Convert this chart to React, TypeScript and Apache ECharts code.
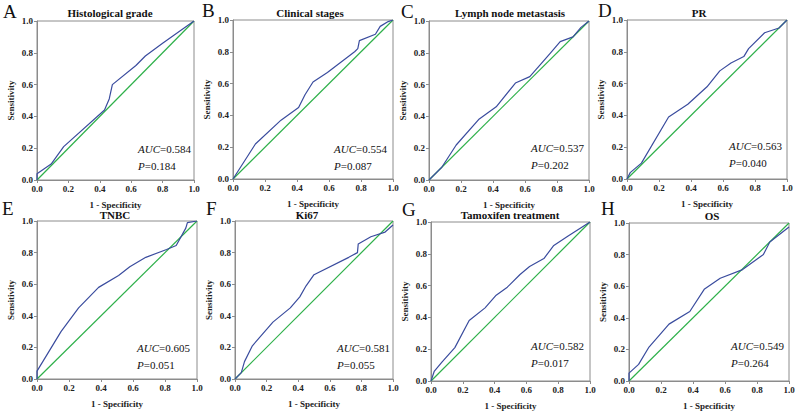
import React, { useEffect, useRef } from 'react';
import * as echarts from 'echarts';

const panelLetters = ['A', 'B', 'C', 'D', 'E', 'F', 'G', 'H'];
const panelTitles = [
  'Histological grade',
  'Clinical stages',
  'Lymph node metastasis',
  'PR',
  'TNBC',
  'Ki67',
  'Tamoxifen treatment',
  'OS',
];
const aucValues = ['0.584', '0.554', '0.537', '0.563', '0.605', '0.581', '0.582', '0.549'];
const pValues = ['0.184', '0.087', '0.202', '0.040', '0.051', '0.055', '0.017', '0.264'];
const xAxisName = '1 - Specificity';
const yAxisName = 'Sensitivity';

const referenceLine = [[0, 0], [1, 1]];

const rocHistological = [[0, 0], [0, 0.04], [0.09, 0.1], [0.17, 0.21], [0.43, 0.44], [0.46, 0.51], [0.48, 0.6], [0.63, 0.72], [0.69, 0.78], [0.8, 0.86], [1, 1]];
const rocClinical = [[0, 0], [0.14, 0.22], [0.3, 0.37], [0.41, 0.45], [0.45, 0.53], [0.5, 0.61], [0.59, 0.67], [0.76, 0.8], [0.78, 0.82], [0.79, 0.87], [0.89, 0.91], [0.92, 0.96], [0.97, 0.99], [1, 1]];
const rocLymph = [[0, 0], [0.08, 0.08], [0.17, 0.22], [0.31, 0.38], [0.42, 0.46], [0.54, 0.61], [0.63, 0.65], [0.76, 0.8], [0.82, 0.87], [0.9, 0.9], [0.95, 0.96], [1, 1]];
const rocPR = [[0, 0], [0.02, 0.04], [0.09, 0.1], [0.26, 0.39], [0.38, 0.47], [0.5, 0.58], [0.58, 0.68], [0.65, 0.73], [0.73, 0.77], [0.76, 0.82], [0.86, 0.92], [0.95, 0.95], [1, 1]];
const rocTNBC = [[0, 0], [0, 0.05], [0.15, 0.3], [0.26, 0.45], [0.385, 0.58], [0.51, 0.655], [0.58, 0.71], [0.68, 0.77], [0.81, 0.82], [0.87, 0.845], [0.93, 0.955], [0.94, 0.99], [1, 1]];
const rocKi67 = [[0, 0], [0.04, 0.04], [0.06, 0.11], [0.11, 0.21], [0.24, 0.36], [0.35, 0.45], [0.41, 0.52], [0.45, 0.59], [0.5, 0.66], [0.72, 0.77], [0.775, 0.8], [0.78, 0.855], [0.86, 0.9], [0.95, 0.93], [1, 0.975]];
const rocTamoxifen = [[0, 0], [0.02, 0.06], [0.07, 0.12], [0.15, 0.21], [0.24, 0.38], [0.34, 0.46], [0.41, 0.54], [0.48, 0.59], [0.56, 0.67], [0.62, 0.72], [0.71, 0.77], [0.77, 0.85], [0.86, 0.91], [1, 1]];
const rocOS = [[0, 0], [0, 0.05], [0.06, 0.105], [0.125, 0.215], [0.25, 0.36], [0.38, 0.44], [0.47, 0.58], [0.57, 0.65], [0.71, 0.705], [0.84, 0.8], [0.88, 0.88], [1, 0.975]];

const rocCurves = [rocHistological, rocClinical, rocLymph, rocPR, rocTNBC, rocKi67, rocTamoxifen, rocOS];

// layout (pixels)
const gridBoxes = [
  { left: 37, top: 21, width: 157, height: 159 },
  { left: 233, top: 20, width: 160, height: 159 },
  { left: 429, top: 21, width: 160, height: 159 },
  { left: 627, top: 20, width: 160, height: 159 },
  { left: 37, top: 221, width: 160, height: 158 },
  { left: 235, top: 221, width: 158, height: 158 },
  { left: 431, top: 222, width: 159, height: 159 },
  { left: 629, top: 223, width: 160, height: 158 },
];
const titleCenters = [110, 310, 510, 699, 115, 307, 510, 712];
const titleTops = [7, 7, 7, 7, 209, 209, 209, 210];
const letterPos = [[3, 4], [202, 3], [401, 4], [598, 3], [2, 201], [206, 201], [402, 202], [601, 201]];
const aucPos = [[138, 140], [334, 140], [531, 139], [729, 137], [137, 339], [337, 339], [531, 337], [731, 337]];

const SERIF = 'Liberation Serif';
const GREY = '#8c8c8c';
const BLUE = '#3a4c9e';
const GREEN = '#2eb04a';

export default function App() {
  const ref = useRef<HTMLDivElement>(null);

  useEffect(() => {
    if (!ref.current) return;
    const chart = echarts.init(ref.current, undefined, { renderer: 'svg' });

    const grids = gridBoxes.map((g) => ({
      left: g.left,
      top: g.top,
      width: g.width,
      height: g.height,
      show: true,
      borderColor: GREY,
      borderWidth: 1,
      backgroundColor: 'transparent',
      containLabel: false,
    }));

    const axisCommon = {
      type: 'value' as const,
      min: 0,
      max: 1,
      interval: 0.2,
      splitLine: { show: false },
      axisLine: { show: true, onZero: false, lineStyle: { color: GREY, width: 1 } },
      axisTick: { show: true, inside: false, length: 3, lineStyle: { color: GREY } },
    };

    const xAxes = gridBoxes.map((_, i) => ({
      ...axisCommon,
      gridIndex: i,
      name: xAxisName,
      nameLocation: 'middle' as const,
      nameGap: 20,
      nameTextStyle: { fontFamily: SERIF, fontWeight: 'bold', fontSize: 9, color: '#222' },
      axisLabel: {
        margin: 4,
        fontFamily: SERIF,
        fontWeight: 'bold',
        fontSize: 9,
        color: '#222',
        formatter: (v: number) => v.toFixed(1),
      },
    }));

    const yAxes = gridBoxes.map((_, i) => ({
      ...axisCommon,
      gridIndex: i,
      name: yAxisName,
      nameLocation: 'middle' as const,
      nameGap: 22,
      nameTextStyle: { fontFamily: SERIF, fontWeight: 'bold', fontSize: 9, color: '#222' },
      axisLabel: {
        margin: 4,
        fontFamily: SERIF,
        fontWeight: 'bold',
        fontSize: 9,
        color: '#222',
        formatter: (v: number) => v.toFixed(1),
      },
    }));

    const series: any[] = [];
    rocCurves.forEach((curve, i) => {
      series.push({
        type: 'line',
        xAxisIndex: i,
        yAxisIndex: i,
        data: referenceLine,
        showSymbol: false,
        symbol: 'none',
        lineStyle: { color: GREEN, width: 1.2 },
        z: 2,
        silent: true,
      });
      series.push({
        type: 'line',
        xAxisIndex: i,
        yAxisIndex: i,
        data: curve,
        showSymbol: false,
        symbol: 'none',
        lineStyle: { color: BLUE, width: 1.2 },
        z: 3,
        silent: true,
      });
    });

    const titles: any[] = [];
    panelTitles.forEach((t, i) => {
      titles.push({
        text: t,
        left: titleCenters[i],
        top: titleTops[i],
        textAlign: 'center',
        padding: 0,
        textStyle: { fontFamily: SERIF, fontWeight: 'bold', fontSize: 11, color: '#111' },
      });
      titles.push({
        text: panelLetters[i],
        left: letterPos[i][0],
        top: letterPos[i][1],
        padding: 0,
        textStyle: { fontFamily: SERIF, fontWeight: 'normal', fontSize: 19, lineHeight: 14, color: '#111' },
      });
      titles.push({
        text: `{i|AUC}{n|=${aucValues[i]}}\n{i|P}{n|=${pValues[i]}}`,
        left: aucPos[i][0],
        top: aucPos[i][1],
        padding: 0,
        textStyle: {
          fontFamily: SERIF,
          fontWeight: 'normal',
          fontSize: 11,
          color: '#111',
          lineHeight: 17,
          rich: {
            i: { fontFamily: SERIF, fontStyle: 'italic', fontWeight: 'normal', fontSize: 11, color: '#111', lineHeight: 17 },
            n: { fontFamily: SERIF, fontStyle: 'normal', fontWeight: 'normal', fontSize: 11, color: '#111', lineHeight: 17 },
          },
        },
      });
    });

    chart.setOption({
      animation: false,
      backgroundColor: '#ffffff',
      textStyle: { fontFamily: SERIF },
      title: titles,
      grid: grids,
      xAxis: xAxes,
      yAxis: yAxes,
      series,
    });

    return () => {
      chart.dispose();
    };
  }, []);

  return (
    <div
      ref={ref}
      style={{ position: 'absolute', left: 0, top: 0, width: 800, height: 412 }}
    />
  );
}
